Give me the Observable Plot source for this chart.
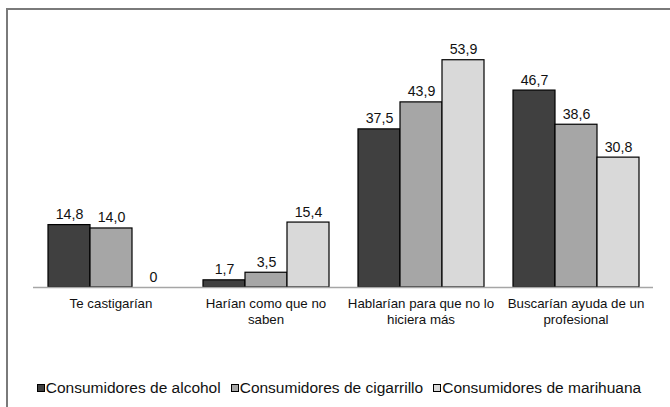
<!DOCTYPE html>
<html>
<head>
<meta charset="utf-8">
<script src="https://cdn.jsdelivr.net/npm/d3@7"></script>
<script src="https://cdn.jsdelivr.net/npm/@observablehq/plot@0.6"></script>
<style>
  body { margin: 0; background: #fff; font-family: "Liberation Sans", Arial, sans-serif; }
  #frame { position: absolute; left: 6px; top: 8px; width: 720px; height: 460px;
           border-left: 2px solid #7a7a7a; border-top: 2px solid #7a7a7a; }
  #chart { position: absolute; left: 0; top: 0; }
  #legend { position: absolute; left: 0; top: 380px; width: 678px; display: flex;
            justify-content: center; gap: 10px; font-size: 15.5px; color: #111; line-height: 16px; }
  .item { display: flex; align-items: center; }
  .sw { width: 6px; height: 6px; border: 1px solid #000; margin-right: 1px; }
</style>
</head>
<body>
<div id="frame"></div>
<div id="chart"></div>
<div id="legend"></div>
<script>
const categories = ["Te castigarían", "Harían como que no saben", "Hablarían para que no lo hiciera más", "Buscarían ayuda de un profesional"];
const tickLabels = ["Te castigarían", "Harían como que no\nsaben", "Hablarían para que no lo\nhiciera más", "Buscarían ayuda de un\nprofesional"];
const series = ["Consumidores de alcohol", "Consumidores de cigarrillo", "Consumidores de marihuana"];
const alcohol = [14.8, 1.7, 37.5, 46.7];
const cigarrillo = [14.0, 3.5, 43.9, 38.6];
const marihuana = [0, 15.4, 53.9, 30.8];
const colors = ["#404040", "#a6a6a6", "#d9d9d9"];

const valuesBySeries = [alcohol, cigarrillo, marihuana];
const data = [];
categories.forEach((c, i) => series.forEach((s, j) => data.push({category: c, series: s, value: valuesBySeries[j][i]})));
const fmt = v => v === 0 ? "0" : v.toFixed(1).replace(".", ",");

const chart = Plot.plot({
  width: 670,
  height: 350,
  marginLeft: 32,
  marginRight: 16,
  marginTop: 34,
  marginBottom: 63,
  style: {fontFamily: "'Liberation Sans', Arial, sans-serif", fontSize: "13.3px", color: "#111", background: "transparent"},
  fx: {domain: categories, padding: 0, axis: null},
  x: {domain: series, paddingInner: 0, paddingOuter: 0.32, axis: null},
  y: {domain: [0, 60], axis: null},
  color: {domain: series, range: colors},
  marks: [
    Plot.barY(data, {fx: "category", x: "series", y: "value", fill: "series", stroke: "#000", strokeWidth: 1.2}),
    Plot.ruleY([0], {stroke: "#a6a6a6", strokeWidth: 1.5}),
    Plot.text(data, {fx: "category", x: "series", y: "value", text: d => fmt(d.value), lineAnchor: "bottom", dy: -6, fontSize: 14.2, fill: "#111"}),
    Plot.axisFx({anchor: "bottom", tickSize: 0, tickPadding: 9, label: null, lineHeight: 1.2, fontSize: 13.3,
      tickFormat: c => tickLabels[categories.indexOf(c)]})
  ]
});
document.getElementById("chart").appendChild(chart);

const legend = document.getElementById("legend");
series.forEach((s, j) => {
  const it = document.createElement("div");
  it.className = "item";
  const sw = document.createElement("span");
  sw.className = "sw";
  sw.style.background = colors[j];
  it.appendChild(sw);
  const t = document.createElement("span");
  t.textContent = s;
  it.appendChild(t);
  legend.appendChild(it);
});
</script>
</body>
</html>
